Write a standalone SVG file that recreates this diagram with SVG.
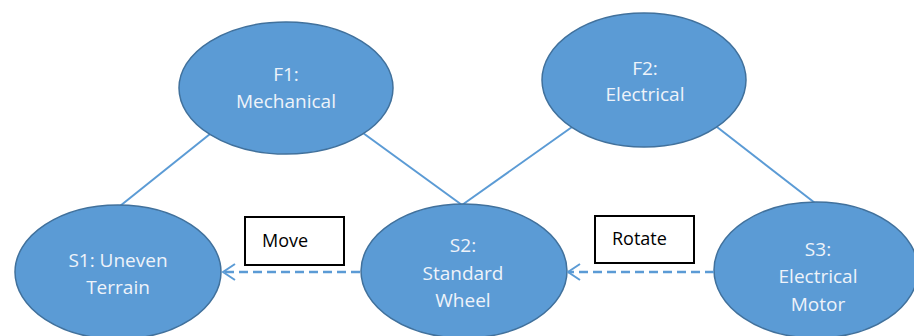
<svg xmlns="http://www.w3.org/2000/svg" width="914" height="336" viewBox="0 0 914 336">
<defs>
<style>
.node ellipse{fill:#5B9BD5;stroke:#41719C;stroke-width:1.5}
.node text{fill:#EEF3FA;font-family:"Open Sans","Liberation Sans",sans-serif;font-size:19px;text-anchor:middle}
.edge{stroke:#5B9BD5;stroke-width:2;fill:none}
.dash{stroke:#5B9BD5;stroke-width:2.5;fill:none;stroke-dasharray:9 5}
.lbl rect{fill:#fff;stroke:#000;stroke-width:2}
.lbl text{fill:#000;font-family:"Open Sans","Liberation Sans",sans-serif;font-size:18px}
</style>
<marker id="open" viewBox="0 0 14 18" refX="13" refY="9" markerWidth="14" markerHeight="18" markerUnits="userSpaceOnUse" orient="auto">
<path d="M1,1 L13,9 L1,17" fill="none" stroke="#5B9BD5" stroke-width="2"/>
</marker>
</defs>
<rect width="914" height="336" fill="#fff"/>
<g id="connectors">
<line class="edge" x1="210" y1="134" x2="120" y2="206"/>
<line class="edge" x1="363" y1="133" x2="462" y2="205"/>
<line class="edge" x1="572" y1="127" x2="462" y2="205"/>
<line class="edge" x1="717" y1="127" x2="815" y2="203"/>
</g>
<g id="F1" class="node">
<ellipse cx="286" cy="88" rx="107" ry="66"/>
<text x="286" y="81">F1:</text>
<text x="286" y="108">Mechanical</text>
</g>
<g id="F2" class="node">
<ellipse cx="644" cy="80" rx="102" ry="67"/>
<text x="645" y="75">F2:</text>
<text x="645" y="101">Electrical</text>
</g>
<g id="S1" class="node">
<ellipse cx="118" cy="272" rx="103" ry="67"/>
<text x="118" y="267">S1: Uneven</text>
<text x="118" y="294">Terrain</text>
</g>
<g id="S2" class="node">
<ellipse cx="464" cy="271" rx="103" ry="67"/>
<text x="463" y="252">S2:</text>
<text x="463" y="280">Standard</text>
<text x="463" y="307">Wheel</text>
</g>
<g id="S3" class="node">
<ellipse cx="816" cy="270" rx="102" ry="68"/>
<text x="818" y="256">S3:</text>
<text x="818" y="283">Electrical</text>
<text x="818" y="311">Motor</text>
</g>
<g id="arrows">
<line class="dash" x1="360" y1="272" x2="223" y2="272" marker-end="url(#open)"/>
<line class="dash" x1="714" y1="272" x2="568" y2="272" marker-end="url(#open)"/>
</g>
<g id="Move" class="lbl">
<rect x="245" y="217" width="99" height="48"/>
<text x="262" y="247">Move</text>
</g>
<g id="Rotate" class="lbl">
<rect x="595" y="216" width="99" height="47"/>
<text x="612" y="245">Rotate</text>
</g>
</svg>
